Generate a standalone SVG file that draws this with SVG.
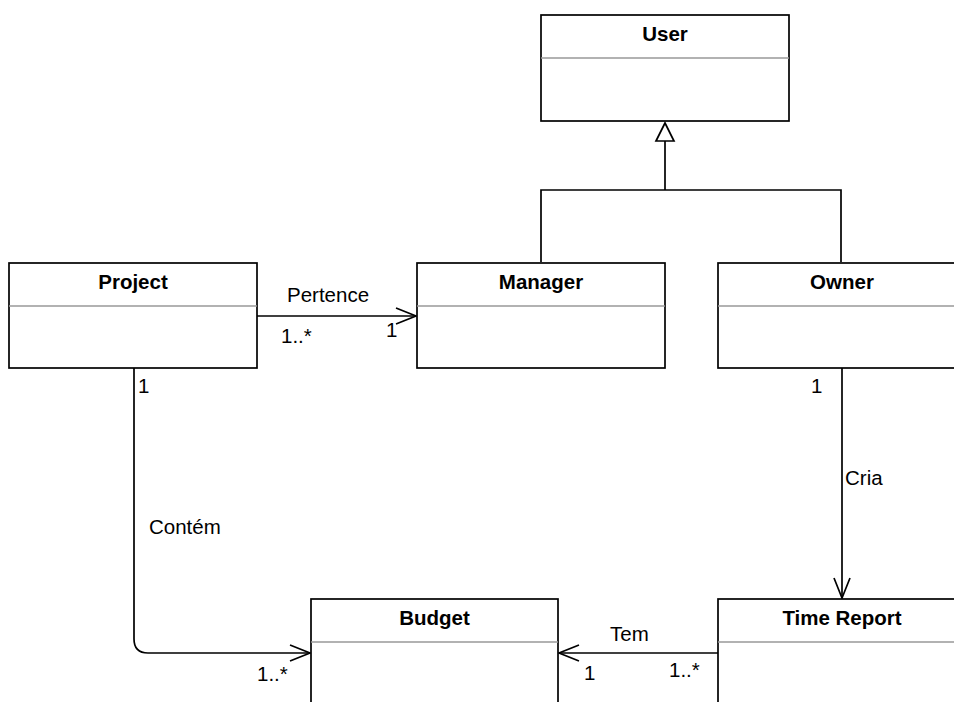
<svg xmlns="http://www.w3.org/2000/svg" width="954" height="702" viewBox="0 0 954 702">
  <style>
    .box { fill: #ffffff; stroke: #000000; stroke-width: 1.7; }
    .div { stroke: #999999; stroke-width: 1.6; }
    .title { font-family: "Liberation Sans", Arial, sans-serif; font-size: 20.5px; font-weight: bold; fill: #000000; text-anchor: middle; }
    .lbl { font-family: "Liberation Sans", Arial, sans-serif; font-size: 20.5px; fill: #000000; }
    .edge { fill: none; stroke: #000000; stroke-width: 1.7; }
  </style>
  <defs>
    <marker id="open" viewBox="0 0 22 18" refX="21" refY="9" markerWidth="22" markerHeight="18" markerUnits="userSpaceOnUse" orient="auto">
      <path d="M1,1 L21,9 L1,17" fill="none" stroke="#000000" stroke-width="1.7"/>
    </marker>
  </defs>
  <rect width="954" height="702" fill="#ffffff"/>

  <!-- connectors -->
  <g id="connectors">
    <!-- generalization: Manager / Owner to User -->
    <path class="edge" d="M541,262 V190 H841 V262 M665,190 V141"/>
    <path d="M665,123 L674,141 L656,141 Z" fill="#ffffff" stroke="#000000" stroke-width="1.7"/>
    <!-- Project -> Manager -->
    <path class="edge" d="M257,316 H416" marker-end="url(#open)"/>
    <!-- Project -> Budget -->
    <path class="edge" d="M134,368 V639 Q134,653 148,653 H310" marker-end="url(#open)"/>
    <!-- Owner -> Time Report -->
    <path class="edge" d="M842,368 V598" marker-end="url(#open)"/>
    <!-- Time Report -> Budget -->
    <path class="edge" d="M718,653 H559" marker-end="url(#open)"/>

    <text class="lbl" x="287" y="302">Pertence</text>
    <text class="lbl" x="281" y="343">1..*</text>
    <text class="lbl" x="386" y="337">1</text>
    <text class="lbl" x="138" y="393">1</text>
    <text class="lbl" x="149" y="534">Contém</text>
    <text class="lbl" x="257" y="681">1..*</text>
    <text class="lbl" x="811" y="393">1</text>
    <text class="lbl" x="845" y="485">Cria</text>
    <text class="lbl" x="610" y="641">Tem</text>
    <text class="lbl" x="584" y="680">1</text>
    <text class="lbl" x="669" y="677">1..*</text>
  </g>

  <g id="user">
    <rect class="box" x="541" y="15" width="248" height="106"/>
    <line class="div" x1="541" y1="58" x2="789" y2="58"/>
    <text class="title" x="665" y="41">User</text>
  </g>

  <g id="project">
    <rect class="box" x="9" y="263" width="248" height="105"/>
    <line class="div" x1="9" y1="306" x2="257" y2="306"/>
    <text class="title" x="133" y="289">Project</text>
  </g>

  <g id="manager">
    <rect class="box" x="417" y="263" width="248" height="105"/>
    <line class="div" x1="417" y1="306" x2="665" y2="306"/>
    <text class="title" x="541" y="289">Manager</text>
  </g>

  <g id="owner">
    <rect class="box" x="718" y="263" width="248" height="105"/>
    <line class="div" x1="718" y1="306" x2="966" y2="306"/>
    <text class="title" x="842" y="289">Owner</text>
  </g>

  <g id="budget">
    <rect class="box" x="311" y="599" width="247" height="120"/>
    <line class="div" x1="311" y1="642" x2="558" y2="642"/>
    <text class="title" x="434.5" y="625">Budget</text>
  </g>

  <g id="time-report">
    <rect class="box" x="718" y="599" width="248" height="120"/>
    <line class="div" x1="718" y1="642" x2="966" y2="642"/>
    <text class="title" x="842" y="625">Time Report</text>
  </g>
</svg>
